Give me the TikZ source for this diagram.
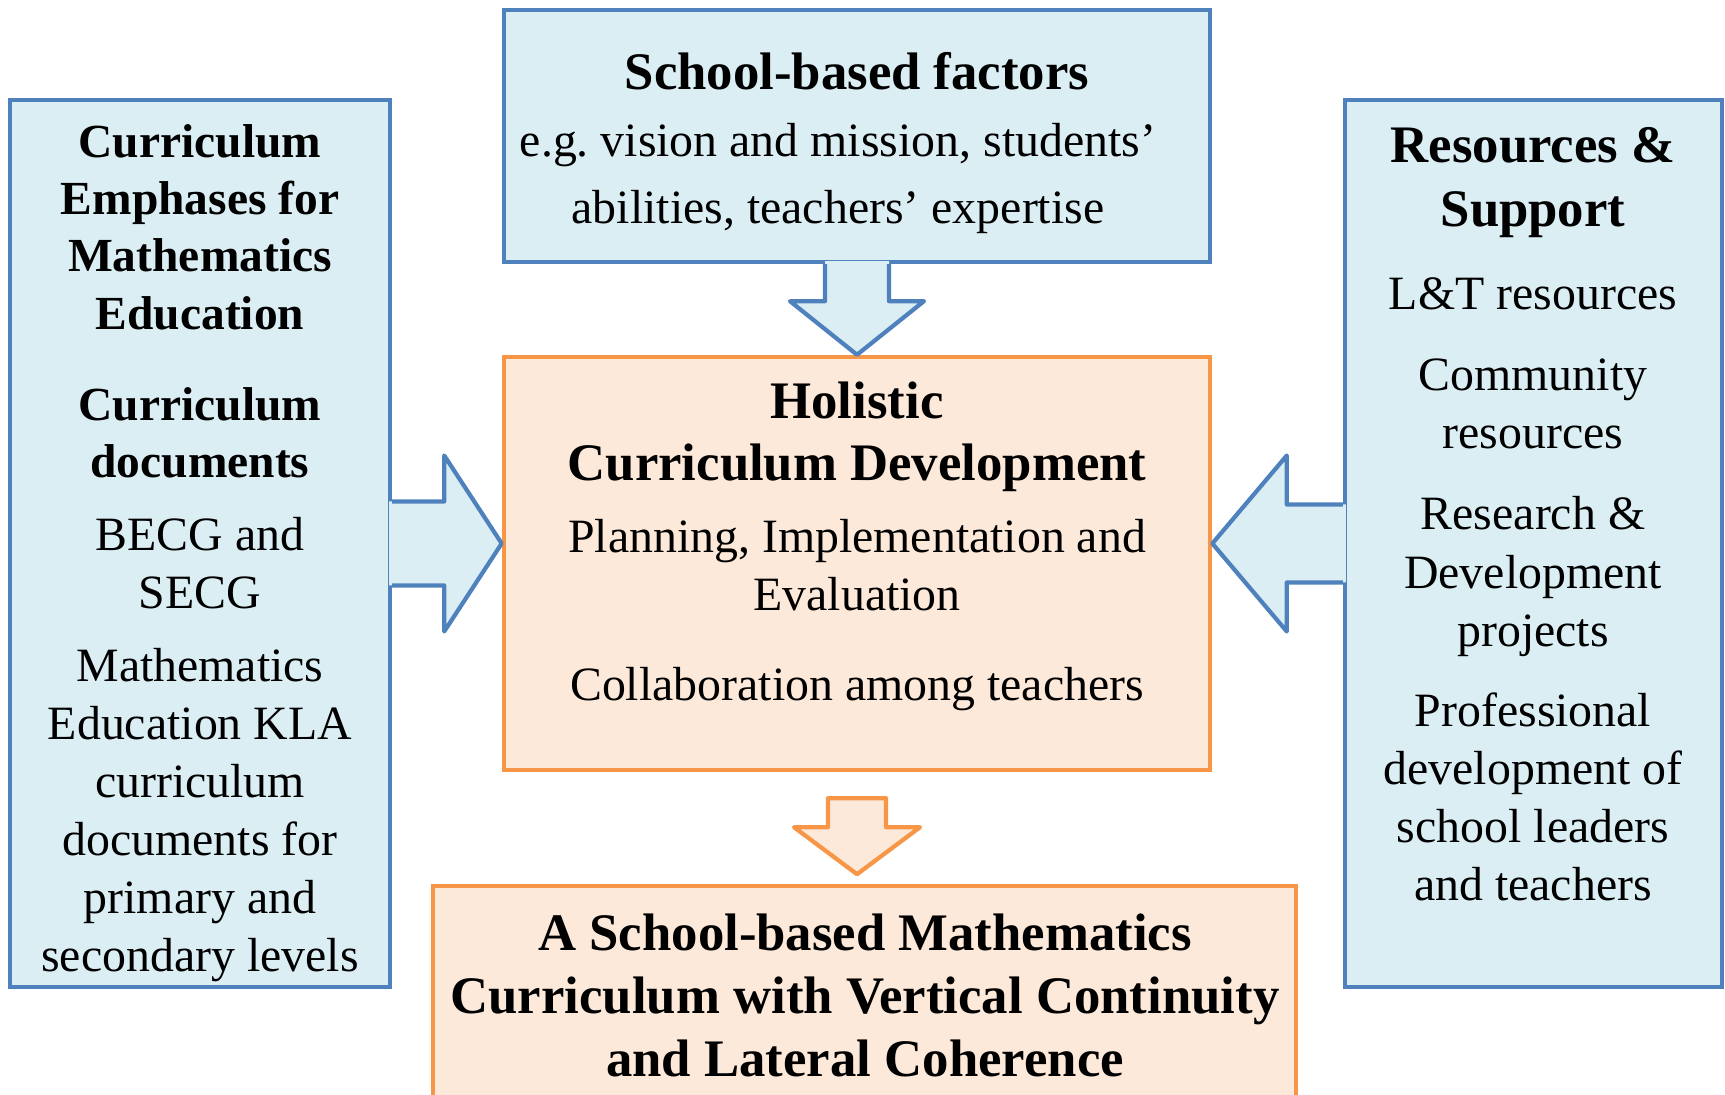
\documentclass[tikz,border=0pt]{standalone}
\usepackage{fontspec}
\setmainfont{Liberation Serif}
\frenchspacing
\usetikzlibrary{calc}
\definecolor{boxblue}{HTML}{4F81BD}
\definecolor{fillblue}{HTML}{DBEEF4}
\definecolor{boxorange}{HTML}{F79646}
\definecolor{fillorange}{HTML}{FDE9D9}
\tikzset{
    %Define style for blue boxes
    bluebox/.style={
           rectangle,
           draw=boxblue, line width=1.2pt,
           fill=fillblue,
           inner sep=0pt},
    %Define style for orange boxes
    orangebox/.style={
           rectangle,
           draw=boxorange, line width=1.2pt,
           fill=fillorange,
           inner sep=0pt},
    % Define block arrow styles
    bluearrow/.style={
           draw=boxblue, line width=1.2pt,
           line join=round},
    orangearrow/.style={
           draw=boxorange, line width=1.2pt,
           fill=fillorange,
           line join=round},
    % Define text styles
    bighead/.style={
           align=center, inner sep=0pt,
           font=\fontsize{15}{17.8}\selectfont\bfseries},
    smallhead/.style={
           align=center, inner sep=0pt,
           font=\fontsize{13.5}{16.3}\selectfont\bfseries},
    body/.style={
           align=center, inner sep=0pt,
           font=\fontsize{13.6}{16.5}\selectfont}
}
\begin{document}
\begin{tikzpicture}[x=0.01cm, y=-0.01cm]
\path[use as bounding box] (0,0) rectangle (1725,1095);
\clip (0,0) rectangle (1725,1095);
%boxes
\node[bluebox, minimum width=3.8cm, minimum height=8.87cm] (left) at (200,543.5) {};
\node[bluebox, minimum width=3.77cm, minimum height=8.87cm] (right) at (1533.5,543.5) {};
\node[bluebox, minimum width=7.06cm, minimum height=2.52cm] (top) at (857,136) {};
\node[orangebox, minimum width=7.06cm, minimum height=4.13cm] (centre) at (857,563.5) {};
\node[orangebox, minimum width=8.63cm, minimum height=2.4cm] (result) at (864.5,1006) {};
%arrow from school-based factors into centre
\fill[fillblue] ($(top.south)+(-32,-3)$) -- ($(top.south)+(-32,37)$) -- ($(top.south)+(-67,37)$)
  -- (centre.north) -- ($(top.south)+(67,37)$) -- ($(top.south)+(32,37)$) -- ($(top.south)+(32,-3)$) -- cycle;
\draw[bluearrow] ($(top.south)+(-32,0)$) -- ($(top.south)+(-32,37)$) -- ($(top.south)+(-67,37)$)
  -- (centre.north) -- ($(top.south)+(67,37)$) -- ($(top.south)+(32,37)$) -- ($(top.south)+(32,0)$);
%arrow from curriculum emphases
\fill[fillblue] ($(left.east)+(-3,-42)$) -- ($(left.east)+(52,-42)$) -- ($(left.east)+(52,-88)$)
  -- (centre.west |- left.east) -- ($(left.east)+(52,88)$) -- ($(left.east)+(52,42)$) -- ($(left.east)+(-3,42)$) -- cycle;
\draw[bluearrow] ($(left.east)+(0,-42)$) -- ($(left.east)+(52,-42)$) -- ($(left.east)+(52,-88)$)
  -- (centre.west |- left.east) -- ($(left.east)+(52,88)$) -- ($(left.east)+(52,42)$) -- ($(left.east)+(0,42)$);
%arrow from resources
\fill[fillblue] ($(right.west)+(3,-39)$) -- ($(right.west)+(-56,-39)$) -- ($(right.west)+(-56,-88)$)
  -- (centre.east |- right.west) -- ($(right.west)+(-56,88)$) -- ($(right.west)+(-56,39)$) -- ($(right.west)+(3,39)$) -- cycle;
\draw[bluearrow] ($(right.west)+(0,-39)$) -- ($(right.west)+(-56,-39)$) -- ($(right.west)+(-56,-88)$)
  -- (centre.east |- right.west) -- ($(right.west)+(-56,88)$) -- ($(right.west)+(-56,39)$) -- ($(right.west)+(0,39)$);
%arrow down to the school-based curriculum
\draw[orangearrow] ($(centre.south)+(-29,26)$) -- ($(centre.south)+(-29,55)$) -- ($(centre.south)+(-63,55)$)
  -- ($(centre.south)+(0,102)$) -- ($(centre.south)+(63,55)$) -- ($(centre.south)+(29,55)$) -- ($(centre.south)+(29,26)$) -- cycle;
%top box text
\node[bighead] (factors) at (857,71.5) {School-based factors};
\node[body, font=\fontsize{13.6}{18.8}\selectfont] (factorlist) at (838,178.5)
  {e.g. vision and mission, students'\\abilities, teachers' expertise};
%centre box text
\node[bighead] (holistic) at (857,437) {Holistic\\Curriculum Development};
\node[body] (planning) at (857,565) {Planning, Implementation and\\Evaluation};
\node[body] (collab) at (857,689.5) {Collaboration among teachers};
%left box text
\node[smallhead] (emphases) at (200,227) {Curriculum\\Emphases for\\Mathematics\\Education};
\node[smallhead] (documents) at (200,432.5) {Curriculum\\documents};
\node[body] (becg) at (200,563) {BECG and\\SECG};
\node[body] (kla) at (200,815) {Mathematics\\Education KLA\\curriculum\\documents for\\primary and\\secondary levels};
%right box text
\node[bighead, font=\fontsize{15}{18.2}\selectfont\bfseries] (support) at (1533,182.5) {Resources \&\\Support};
\node[body] (ltres) at (1533,294) {L\&T resources};
\node[body] (community) at (1533,404) {Community\\resources};
\node[body] (research) at (1533,576.5) {Research \&\\Development\\projects};
\node[body] (profdev) at (1533,797) {Professional\\development of\\school leaders\\and teachers};
%bottom box text
\node[bighead] (outcome) at (865,995.5) {A School-based Mathematics\\Curriculum with Vertical Continuity\\and Lateral Coherence};
\end{tikzpicture}
\end{document}
